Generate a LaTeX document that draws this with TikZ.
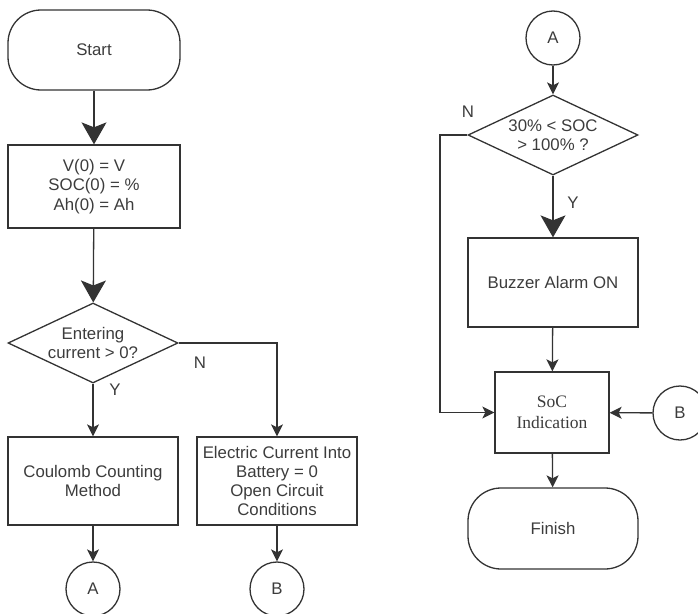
\documentclass[tikz,border=0pt]{standalone}
\usepackage{fontspec}
\setmainfont{Liberation Sans}
\newfontfamily\serifface{Liberation Serif}
\usetikzlibrary{shapes.geometric,arrows.meta}
\definecolor{ink}{HTML}{333333}
\definecolor{txtc}{HTML}{3C3C3C}
\tikzset{
  base/.style={draw=ink, line width=1.3pt, text=txtc, align=center,
    font=\fontsize{16.8}{19.3}\selectfont, inner sep=0pt},
  terminal/.style={base, rectangle, rounded corners=33pt, minimum width=172pt, minimum height=80pt},
  procbox/.style={base, rectangle},
  decision/.style={base, diamond, minimum width=170pt, minimum height=80pt, aspect=2.125},
  conn/.style={base, circle, minimum size=54pt},
  label/.style={text=txtc, align=center, inner sep=0pt, font=\fontsize{16.8}{19.3}\selectfont},
  flow/.style={draw=ink, line width=1.3pt, -{Stealth[length=12pt,width=12pt,inset=3pt]}},
  bigflow/.style={draw=ink, line width=1.3pt, -{Stealth[length=22pt,width=25pt,inset=5pt]}}
}
\begin{document}
\begin{tikzpicture}[x=1pt, y=-1pt]
\useasboundingbox (0,0) rectangle (698,613);

% left column
\node[terminal] (start) at (94,50) {Start};
\node[procbox, minimum width=172pt, minimum height=83pt] (init) at (94,186.5)
  {V(0) = V\\SOC(0) = \%\\Ah(0) = Ah};
\node[decision] (d1) at (93,343) {};
\node[label] (d1t) at (93,343) {Entering\\current > 0?};
\node[procbox, minimum width=170pt, minimum height=88pt] (cc) at (93,481) {Coulomb Counting\\Method};
\node[procbox, minimum width=160pt, minimum height=88pt] (oc) at (277,481)
  {Electric Current Into\\Battery = 0\\Open Circuit\\Conditions};
\node[conn] (a1) at (93,589) {A};
\node[conn] (b1) at (277,589) {B};
\node[label] (n1) at (200,363) {N};
\node[label] (y1) at (115,390) {Y};

\draw[bigflow] (start) -- (init);
\draw[bigflow] (init) -- (d1);
\draw[flow] (d1) -- (cc);
\draw[flow] (d1.east) -| (oc.north);
\draw[flow] (cc) -- (a1);
\draw[flow] (oc) -- (b1);

% right column
\node[conn] (a2) at (553,38) {A};
\node[decision] (d2) at (553,135) {};
\node[label] (d2t) at (553,135) {30\% < SOC\\> 100\% ?};
\node[procbox, minimum width=170pt, minimum height=89pt] (buzz) at (553,282.5) {Buzzer Alarm ON};
\node[procbox, minimum width=114pt, minimum height=81pt,
  font=\serifface\fontsize{17.5}{21}\selectfont] (soc) at (552,412.5) {SoC\\Indication};
\node[terminal, minimum width=170pt, minimum height=81pt] (fin) at (553,528.5) {Finish};
\node[conn] (b2) at (680,413) {B};
\node[label] (n2) at (468,112) {N};
\node[label] (y2) at (573,203) {Y};
\coordinate (bend) at (440,135);

\draw[flow] (a2) -- (d2);
\draw[bigflow] (d2) -- (buzz);
\draw[flow] (buzz) -- (soc);
\draw[flow] (d2.west) -- (bend) |- (soc.west);
\draw[flow] (b2) -- (soc);
\draw[flow] (soc) -- (fin);
\end{tikzpicture}
\end{document}
